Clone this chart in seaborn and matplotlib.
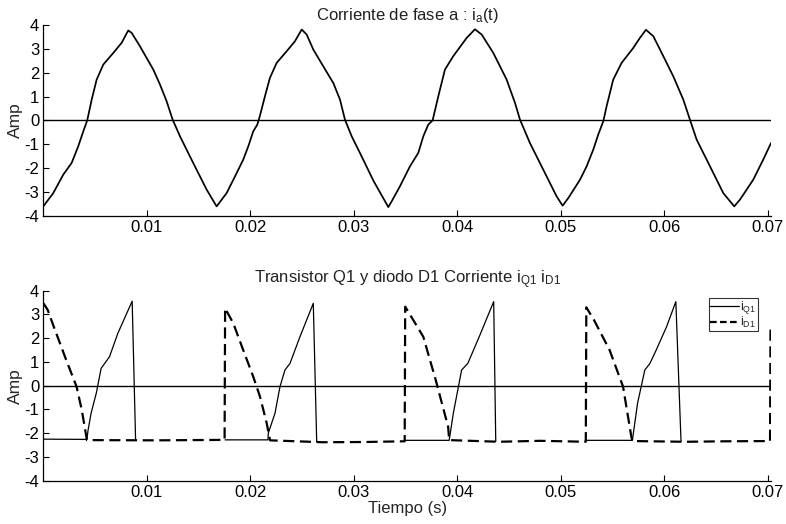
import numpy as np
import pandas as pd
import matplotlib
matplotlib.use("Agg")
import matplotlib.pyplot as plt
from matplotlib.lines import Line2D
import seaborn as sns

# ---- Phase current i_a(t) ----
ia_t = [0.0000, 0.00095, 0.00191, 0.00272, 0.00336, 0.00385, 0.00423, 0.00466, 0.00514,
        0.00578, 0.00675, 0.00755, 0.00819, 0.00852, 0.00932, 0.01061, 0.01126, 0.0119,
        0.01248, 0.01319, 0.01447, 0.01577, 0.01673,
        0.0177, 0.01867, 0.0193, 0.01979, 0.02027, 0.02066, 0.0209, 0.0214, 0.02188,
        0.02253, 0.0235, 0.0243, 0.02495, 0.02543, 0.02607, 0.02703, 0.028, 0.02865,
        0.02913, 0.02978, 0.03058, 0.0319, 0.03332,
        0.03364, 0.03444, 0.03541, 0.03621, 0.0367, 0.03718, 0.0376, 0.03815, 0.03879,
        0.03959, 0.04089, 0.04169, 0.04234, 0.04346, 0.04475, 0.04556, 0.04604, 0.047,
        0.04829, 0.04958, 0.05016,
        0.05071, 0.05184, 0.05248, 0.05312, 0.0536, 0.05409, 0.05441, 0.05505, 0.05586,
        0.05699, 0.05763, 0.05821, 0.05892, 0.05957, 0.06085, 0.06182, 0.06246, 0.06311,
        0.0644, 0.06568, 0.06674,
        0.06729, 0.06858, 0.06954, 0.0703]
ia = [-3.60, -3.05, -2.28, -1.79, -1.09, -0.46, 0.00, 0.87, 1.71,
      2.34, 2.83, 3.25, 3.77, 3.67, 3.11, 2.13, 1.50, 0.80,
      0.03, -0.67, -1.79, -2.91, -3.61,
      -3.05, -2.21, -1.65, -1.09, -0.46, -0.18, 0.17, 1.01, 1.78,
      2.41, 2.90, 3.32, 3.81, 3.60, 2.97, 2.27, 1.57, 0.87,
      0.03, -0.67, -1.37, -2.55, -3.64,
      -3.40, -2.77, -1.93, -1.37, -0.67, -0.18, 0.00, 1.01, 2.13,
      2.69, 3.46, 3.82, 3.60, 2.83, 1.71, 0.73, 0.03, -0.95,
      -2.07, -3.19, -3.58,
      -3.26, -2.49, -1.93, -1.23, -0.60, -0.04, 0.59, 1.71, 2.41,
      3.04, 3.46, 3.80, 3.53, 2.97, 1.85, 0.87, 0.03, -0.81,
      -1.93, -3.05, -3.61,
      -3.33, -2.49, -1.65, -0.95]

# ---- Diode D1 current (continuous trace) ----
d1_t = [0.0, 0.0004, 0.00106, 0.0022, 0.0032, 0.0037, 0.0042, 0.0110, 0.0175,
        0.01755, 0.01834, 0.0193, 0.02027, 0.02092, 0.02157, 0.02182, 0.0219, 0.0270, 0.0310, 0.0349,
        0.03495, 0.0367, 0.0379, 0.0391, 0.0392, 0.0440, 0.0480, 0.0524,
        0.05245, 0.0532, 0.0547, 0.0560, 0.0568, 0.0569, 0.0620, 0.0660, 0.0702,
        0.07025]
i_d1 = [3.47, 3.20, 2.41, 1.08, -0.04, -1.02, -2.29, -2.30, -2.28,
        3.26, 2.63, 1.50, 0.38, -0.46, -1.58, -2.15, -2.30, -2.38, -2.37, -2.34,
        3.33, 2.06, 0.24, -1.73, -2.29, -2.36, -2.32, -2.36,
        3.30, 2.76, 1.50, -0.04, -2.15, -2.33, -2.36, -2.34, -2.33,
        2.55]

# ---- Transistor Q1 current (NaN separates conduction intervals) ----
q1_t = [0.0, 0.0042, 0.0043, 0.0046, 0.0051, 0.00557, 0.00638, 0.00718, 0.00857, 0.0089, np.nan,
        0.01755, 0.0217, 0.02172, 0.02237, 0.02285, 0.02333, 0.02382, 0.02478, 0.02543, 0.02607, 0.0264, np.nan,
        0.03495, 0.0392, 0.0396, 0.0404, 0.0410, 0.0421, 0.0435, 0.0437, np.nan,
        0.05245, 0.0569, 0.0574, 0.0581, 0.0586, 0.0592, 0.0602, 0.0611, 0.0616]
i_q1 = [-2.25, -2.26, -1.90, -1.16, -0.32, 0.73, 1.22, 2.20, 3.56, -2.27, np.nan,
        -2.28, -2.28, -2.00, -1.16, -0.04, 0.66, 0.94, 2.06, 2.77, 3.47, -2.36, np.nan,
        -2.30, -2.30, -1.16, 0.66, 0.94, 2.06, 3.54, -2.35, np.nan,
        -2.30, -2.30, -0.74, 0.66, 0.94, 1.50, 2.48, 3.54, -2.35]

x_ticks = [0.01, 0.02, 0.03, 0.04, 0.05, 0.06, 0.07]
x_tick_labels = ["0.01", "0.02", "0.03", "0.04", "0.05", "0.06", "0.07"]
y_ticks = [-4, -3, -2, -1, 0, 1, 2, 3, 4]
zero_level = 0.0

title_top = "Corriente de fase a : i$_a$(t)"
title_bottom = "Transistor Q1 y diodo D1 Corriente i$_{Q1}$ i$_{D1}$"
label_q1 = "i$_{Q1}$"
label_d1 = "i$_{D1}$"

sns.set_theme(style="ticks")
plt.rcParams["font.family"] = ["Liberation Sans", "DejaVu Sans"]
plt.rcParams["mathtext.default"] = "regular"
plt.rcParams["axes.linewidth"] = 0.9

fig = plt.figure(figsize=(7.86, 5.24), dpi=100, facecolor="white")
ax1 = fig.add_axes([0.0553, 0.5884, 0.9257, 0.3639])
ax2 = fig.add_axes([0.0553, 0.0826, 0.9257, 0.3626])

df_ia = pd.DataFrame({"t": ia_t, "i": ia})
df_d1 = pd.DataFrame({"t": d1_t, "i": i_d1})
df_q1 = pd.DataFrame({"t": q1_t, "i": i_q1})
df_q1["seg"] = df_q1["t"].isna().cumsum()
df_q1 = df_q1.dropna()

# top: phase current
sns.lineplot(data=df_ia, x="t", y="i", ax=ax1, color="black", lw=1.25,
             estimator=None, sort=False, legend=False)
ax1.axhline(zero_level, color="black", lw=1.0, zorder=1)

# bottom: transistor and diode currents
sns.lineplot(data=df_q1, x="t", y="i", units="seg", ax=ax2, color="black", lw=0.9,
             estimator=None, sort=False, legend=False)
sns.lineplot(data=df_d1, x="t", y="i", ax=ax2, color="black", lw=1.6,
             estimator=None, sort=False, legend=False)
ax2.lines[-1].set_dashes((5, 2.5))
ax2.axhline(zero_level, color="black", lw=1.0, zorder=1)

for ax, title in ((ax1, title_top), (ax2, title_bottom)):
    ax.set_xlim(0, 0.0703)
    ax.set_ylim(-4, 4)
    ax.set_xticks(x_ticks)
    ax.set_xticklabels(x_tick_labels)
    ax.set_yticks(y_ticks)
    ax.set_yticklabels([str(v) for v in y_ticks])
    ax.tick_params(axis="both", direction="in", length=4, width=0.8,
                   labelsize=12, colors="black")
    ax.tick_params(axis="x", pad=3)
    ax.tick_params(axis="y", pad=3)
    for s in ("top", "right"):
        ax.spines[s].set_visible(False)
    for s in ("left", "bottom"):
        ax.spines[s].set_color("black")
    ax.set_title(title, fontsize=12, pad=1, color="#222222")
    ax.set_ylabel("Amp", fontsize=12.5, labelpad=1)
    ax.set_xlabel("")
    ax.set_facecolor("white")

ax2.set_xlabel("Tiempo (s)", fontsize=12, labelpad=1)

handles = [Line2D([], [], color="black", lw=0.9),
           Line2D([], [], color="black", lw=1.6, dashes=(3, 1.5))]
leg = ax2.legend(handles, [label_q1, label_d1], loc="upper right",
                 bbox_to_anchor=(0.982, 0.962), fontsize=9, frameon=True,
                 fancybox=False, handlelength=2.3, handletextpad=0.1,
                 borderpad=0.1, labelspacing=-0.1, borderaxespad=0)
leg.get_frame().set_edgecolor("black")
leg.get_frame().set_linewidth(0.8)

fig.savefig("out.png", dpi=100, facecolor="white")
